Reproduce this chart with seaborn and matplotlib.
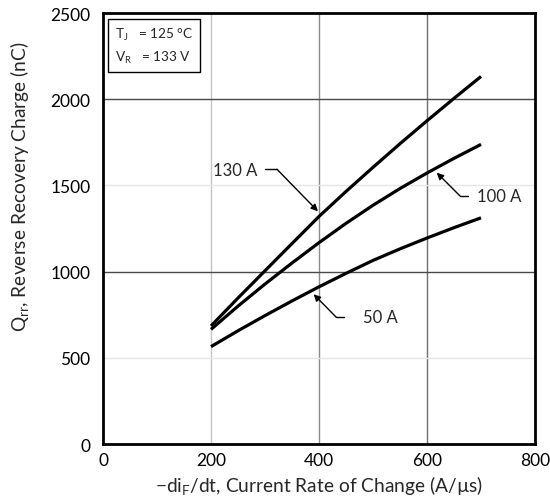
import numpy as np
import pandas as pd
import matplotlib
matplotlib.use("Agg")
import matplotlib.pyplot as plt
import seaborn as sns

# Data
di_dt = [200, 250, 300, 350, 400, 450, 500, 550, 600, 650, 700]
q_130A = [685, 847, 1005, 1163, 1320, 1465, 1605, 1742, 1875, 2005, 2132]
q_100A = [665, 800, 928, 1050, 1168, 1280, 1385, 1482, 1572, 1657, 1738]
q_50A = [565, 657, 745, 830, 912, 990, 1065, 1132, 1195, 1255, 1312]
series_labels = ["130 A", "100 A", "50 A"]

x_ticks = [0, 200, 400, 600, 800]
y_ticks = [0, 500, 1000, 1500, 2000, 2500]

df = pd.DataFrame({
    "x": di_dt * 3,
    "q": q_130A + q_100A + q_50A,
    "series": sum([[s] * len(di_dt) for s in series_labels], []),
})

sns.set_style("white")
plt.rcParams["font.family"] = ["Lato", "DejaVu Sans"]
plt.rcParams["mathtext.fontset"] = "custom"
plt.rcParams["mathtext.rm"] = "Lato"
plt.rcParams["mathtext.it"] = "Lato:italic"
plt.rcParams["mathtext.bf"] = "Lato:bold"

fig = plt.figure(figsize=(5.5, 5.02), dpi=100)
ax = fig.add_axes([0.1873, 0.1135, 0.7855, 0.8586])

# grid lines
for xv, col in [(200, "#c4c4c4"), (400, "#8c8c8c"), (600, "#707070")]:
    ax.axvline(xv, color=col, lw=1.0, zorder=0)
for yv, col in [(500, "#e6e6e6"), (1000, "#4a4a4a"), (1500, "#e6e6e6"), (2000, "#4a4a4a")]:
    ax.axhline(yv, color=col, lw=1.0, zorder=0)

sns.lineplot(data=df, x="x", y="q", hue="series", palette=["black"] * 3,
             linewidth=2.3, legend=False, ax=ax, estimator=None, sort=True)
for line in ax.lines[-3:]:
    line.set_solid_capstyle("butt")
    line.set_solid_joinstyle("round")

ax.set_xlim(0, 800)
ax.set_ylim(0, 2500)
ax.set_xticks(x_ticks)
ax.set_yticks(y_ticks)
ax.tick_params(axis="both", labelsize=12.5, length=0, colors="black")
ax.tick_params(axis="y", pad=9)
ax.tick_params(axis="x", pad=6)
for sp in ax.spines.values():
    sp.set_color("black")
    sp.set_linewidth(2.0)

ax.set_xlabel(r"$-$di$_{\mathrm{F}}$/dt, Current Rate of Change (A/µs)", fontsize=13.8, labelpad=3)
ax.set_ylabel(r"Q$_{\mathrm{rr}}$, Reverse Recovery Charge (nC)", fontsize=13.8)
ax.yaxis.set_label_coords(-0.167, 0.6)

# condition box
ax.text(22, 2428, "T$_{\\mathrm{J}}$   = 125 °C\nV$_{\\mathrm{R}}$   = 133 V",
        fontsize=9.8, va="top", ha="left", linespacing=1.6,
        bbox=dict(boxstyle="square,pad=0.5", fc="white", ec="black", lw=1.0))

arrow_kw = dict(arrowstyle="-|>", color="black", lw=1.0, mutation_scale=10,
                shrinkA=0, shrinkB=0)

# 130 A
ax.text(203, 1592, "130 A", fontsize=12, va="center", ha="left")
ax.plot([300, 322], [1594, 1594], color="black", lw=1.0)
ax.annotate("", xy=(398, 1350), xytext=(322, 1594), arrowprops=arrow_kw)
# 100 A
ax.text(692, 1439, "100 A", fontsize=12, va="center", ha="left")
ax.plot([661, 676], [1439, 1439], color="black", lw=1.0)
ax.annotate("", xy=(618, 1574), xytext=(661, 1439), arrowprops=arrow_kw)
# 50 A
ax.text(481, 735, "50 A", fontsize=12, va="center", ha="left")
ax.plot([432, 447], [735, 735], color="black", lw=1.0)
ax.annotate("", xy=(390, 869), xytext=(432, 735), arrowprops=arrow_kw)

fig.savefig("out.png", dpi=100)
